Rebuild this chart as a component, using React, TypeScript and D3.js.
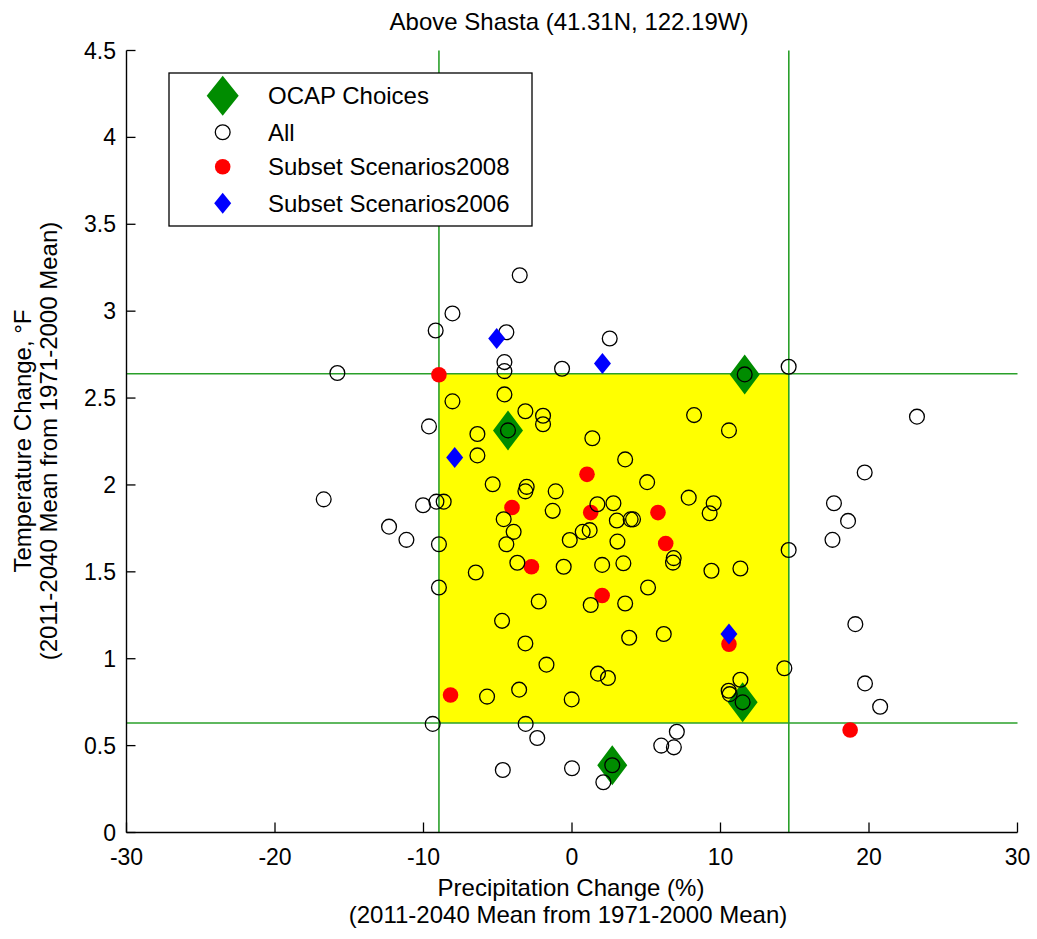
import React from "react";
import * as d3 from "d3";

// Precipitation change (%) and temperature change (°F) for every projection
const allPrecip = [
  -3.52, -8.05, -9.18, -4.42, 2.54, -15.8, -4.55, -4.55, -0.67, 14.59,
  23.23, 8.22, 10.57, -8.05, -4.55, -3.14, -1.95, -1.95, -9.63, -6.37,
  1.37, -4.31, -6.37, 3.58, 5.06, 19.71, -5.34, -3.05, -3.14, -1.1,
  -16.72, -9.13, -8.64, -10.03, -4.6, -1.3, 1.71, 2.79, 3.02, 4.11,
  3.95, 7.86, 9.54, 9.27, 17.64, 18.59, 17.54, -12.32, -11.15, -8.96,
  -3.93, -4.42, -0.15, 0.72, 1.19, 3.06, 6.85, 6.8, 14.59, -6.48,
  -3.68, -0.56, 2.03, 3.46, 9.39, 11.34, -8.96, 5.12, -2.24, 1.26,
  3.58, -4.71, -3.14, 3.85, 6.18, 19.08, -1.72, 1.75, 2.42, 14.3,
  11.34, 10.55, 10.62, 11.49, 19.73, 20.75, -5.72, -3.56, -0.02, -9.38,
  -3.12, -2.34, 7.06, 6.01, 6.86, -4.66, 0.0, 2.71, 2.11, 11.63,
];
const allTemp = [
  3.207, 2.987, 2.889, 2.879, 2.843, 2.644, 2.707, 2.655, 2.669, 2.68,
  2.393, 2.402, 2.314, 2.481, 2.521, 2.424, 2.398, 2.349, 2.337, 2.293,
  2.269, 2.314, 2.17, 2.147, 2.016, 2.072, 2.004, 1.989, 1.963, 1.963,
  1.917, 1.904, 1.904, 1.883, 1.803, 1.851, 1.889, 1.895, 1.795, 1.802,
  1.802, 1.927, 1.895, 1.837, 1.895, 1.793, 1.684, 1.76, 1.684, 1.659,
  1.73, 1.659, 1.683, 1.73, 1.74, 1.674, 1.579, 1.553, 1.626, 1.496,
  1.552, 1.529, 1.54, 1.549, 1.506, 1.519, 1.41, 1.41, 1.329, 1.309,
  1.318, 1.218, 1.088, 1.121, 1.142, 1.199, 0.966, 0.914, 0.889, 0.945,
  0.879, 0.816, 0.796, 0.749, 0.858, 0.724, 0.782, 0.822, 0.766, 0.625,
  0.625, 0.544, 0.58, 0.5, 0.49, 0.36, 0.37, 0.387, 0.289, 2.636,
];

// Subset Scenarios2008
const sub2008Precip = [-8.96, 1.01, -4.04, 1.26, 5.79, 6.31, -2.73, 2.03, 10.57, -8.18, 18.73];
const sub2008Temp = [2.634, 2.061, 1.87, 1.841, 1.841, 1.663, 1.529, 1.364, 1.084, 0.791, 0.59];

// Subset Scenarios2006
const sub2006Precip = [-5.07, 2.05, -7.9, 10.57];
const sub2006Temp = [2.843, 2.699, 2.158, 1.142];

// OCAP choices
const ocapPrecip = [-4.31, 11.63, 11.49, 2.71];
const ocapTemp = [2.314, 2.636, 0.749, 0.387];

// Bounds of the central range
const precipBounds = [-8.96, 14.6];
const tempBounds = [0.63, 2.64];

const xTicks = [-30, -20, -10, 0, 10, 20, 30];
const yTicks = [0, 0.5, 1, 1.5, 2, 2.5, 3, 3.5, 4, 4.5];

const legendLabels = ["OCAP Choices", "All", "Subset Scenarios2008", "Subset Scenarios2006"];

const W = 1037;
const H = 939;
const FONT = "'Liberation Sans', Arial, Helvetica, sans-serif";
const LINE_GREEN = "#2aa02a";
const OCAP_GREEN = "#008c00";

const diamond = (cx: number, cy: number, hw: number, hh: number) =>
  `M${cx},${cy - hh}L${cx + hw},${cy}L${cx},${cy + hh}L${cx - hw},${cy}Z`;

// plain hyphen-minus tick labels
const tickLabel = (t: number) => String(t);

export default function App() {
  const x = d3.scaleLinear().domain([-30, 30]).range([126.5, 1017.5]);
  const y = d3.scaleLinear().domain([0, 4.5]).range([832.5, 50.5]);

  const [x0, x1] = x.range();
  const [y0, y1] = y.range();

  const lgX = 169;
  const lgY = 73;
  const lgW = 363;
  const lgH = 153;
  const rowY = [95.7, 132.3, 166.7, 203.3];
  const mkX = 222.7;
  const txX = 268;

  return (
    <div style={{ position: "absolute", left: 0, top: 0 }}>
      <svg width={W} height={H} style={{ display: "block", background: "#fff" }} fontFamily={FONT}>
        {/* central range */}
        <rect
          x={x(precipBounds[0])}
          y={y(tempBounds[1])}
          width={x(precipBounds[1]) - x(precipBounds[0])}
          height={y(tempBounds[0]) - y(tempBounds[1])}
          fill="#ffff00"
        />
        {precipBounds.map((v, i) => (
          <line key={"v" + i} x1={x(v)} x2={x(v)} y1={y0} y2={y1} stroke={LINE_GREEN} strokeWidth={1.6} />
        ))}
        {tempBounds.map((v, i) => (
          <line key={"h" + i} x1={x0} x2={x1} y1={y(v)} y2={y(v)} stroke={LINE_GREEN} strokeWidth={1.6} />
        ))}

        {/* axes */}
        <line x1={x0} x2={x1} y1={y0} y2={y0} stroke="#000" strokeWidth={1.4} />
        <line x1={x0} x2={x0} y1={y0} y2={y1} stroke="#000" strokeWidth={1.4} />
        {xTicks.map((t) => (
          <g key={"xt" + t}>
            <line x1={x(t)} x2={x(t)} y1={y0} y2={y0 - 10} stroke="#000" strokeWidth={1.3} />
            <text x={x(t)} y={865} textAnchor="middle" fontSize={23} fill="#000">
              {tickLabel(t)}
            </text>
          </g>
        ))}
        {yTicks.map((t) => (
          <g key={"yt" + t}>
            <line x1={x0} x2={x0 + 9} y1={y(t)} y2={y(t)} stroke="#000" strokeWidth={1.3} />
            <text x={116} y={y(t) + 8} textAnchor="end" fontSize={23} fill="#000">
              {tickLabel(t)}
            </text>
          </g>
        ))}

        {/* markers */}
        {ocapPrecip.map((p, i) => (
          <path key={"o" + i} d={diamond(x(p), y(ocapTemp[i]), 15, 20)} fill={OCAP_GREEN} />
        ))}
        {sub2008Precip.map((p, i) => (
          <circle key={"r" + i} cx={x(p)} cy={y(sub2008Temp[i])} r={7.8} fill="#ff0000" />
        ))}
        {allPrecip.map((p, i) => (
          <circle
            key={"a" + i}
            cx={x(p)}
            cy={y(allTemp[i])}
            r={7.4}
            fill="none"
            stroke="#000"
            strokeWidth={1.3}
          />
        ))}
        {sub2006Precip.map((p, i) => (
          <path key={"b" + i} d={diamond(x(p), y(sub2006Temp[i]), 8.5, 10.5)} fill="#0000ff" />
        ))}

        {/* legend */}
        <rect x={lgX} y={lgY} width={lgW} height={lgH} fill="#fff" stroke="#000" strokeWidth={1.3} />
        <path d={diamond(mkX, rowY[0], 16, 20)} fill={OCAP_GREEN} />
        <circle cx={mkX} cy={rowY[1]} r={7.4} fill="none" stroke="#000" strokeWidth={1.3} />
        <circle cx={mkX} cy={rowY[2]} r={7.8} fill="#ff0000" />
        <path d={diamond(mkX, rowY[3], 8.5, 10.5)} fill="#0000ff" />
        {legendLabels.map((l, i) => (
          <text key={"l" + i} x={txX} y={rowY[i] + 8.5} fontSize={24} fill="#000">
            {l}
          </text>
        ))}

        {/* title and axis labels */}
        <text x={569} y={30} textAnchor="middle" fontSize={24} fill="#000">
          Above Shasta (41.31N, 122.19W)
        </text>
        <text x={571} y={896} textAnchor="middle" fontSize={24} fill="#000">
          Precipitation Change (%)
        </text>
        <text x={568} y={923} textAnchor="middle" fontSize={24} fill="#000">
          (2011-2040 Mean from 1971-2000 Mean)
        </text>
        <g transform="translate(31,441) rotate(-90)">
          <text x={0} y={0} textAnchor="middle" fontSize={24} fill="#000">
            Temperature Change, °F
          </text>
        </g>
        <g transform="translate(57,441) rotate(-90)">
          <text x={0} y={0} textAnchor="middle" fontSize={24} fill="#000">
            (2011-2040 Mean from 1971-2000 Mean)
          </text>
        </g>
      </svg>
    </div>
  );
}
